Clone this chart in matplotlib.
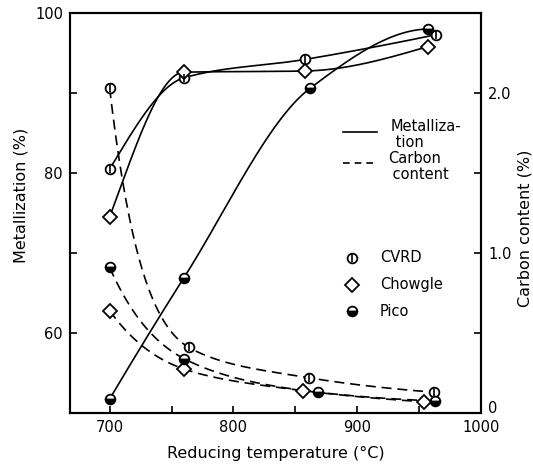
import numpy as np
import matplotlib
matplotlib.use("Agg")
import matplotlib.pyplot as plt

# Reduction results per ore: temperature (deg C), metallization (%), carbon (%)
ores = ["CVRD", "Chowgle", "Pico"]

cvrd_t_met = [700, 760, 858, 964]
cvrd_met = [80.5, 91.9, 94.2, 97.3]
chowgle_t_met = [700, 760, 858, 957]
chowgle_met = [74.5, 92.6, 92.75, 95.8]
pico_t_met = [700, 760, 862, 957]
pico_met = [51.75, 66.9, 90.6, 98.0]

cvrd_t_c = [700, 764, 861, 962]
cvrd_c = [2.03, 0.41, 0.22, 0.13]
chowgle_t_c = [700, 760, 856, 954]
chowgle_c = [0.64, 0.275, 0.14, 0.07]
pico_t_c = [700, 760, 868, 963]
pico_c = [0.91, 0.34, 0.13, 0.075]


def pchip(x, y, xs):
    # monotone cubic hermite through the measured points
    x = np.asarray(x, float)
    y = np.asarray(y, float)
    h = np.diff(x)
    d = np.diff(y) / h
    n = len(x)
    m = np.zeros(n)
    for k in range(1, n - 1):
        if d[k - 1] * d[k] > 0:
            w1 = 2 * h[k] + h[k - 1]
            w2 = h[k] + 2 * h[k - 1]
            m[k] = (w1 + w2) / (w1 / d[k - 1] + w2 / d[k])
    m[0] = ((2 * h[0] + h[1]) * d[0] - h[0] * d[1]) / (h[0] + h[1])
    if np.sign(m[0]) != np.sign(d[0]):
        m[0] = 0
    m[-1] = ((2 * h[-1] + h[-2]) * d[-1] - h[-1] * d[-2]) / (h[-1] + h[-2])
    if np.sign(m[-1]) != np.sign(d[-1]):
        m[-1] = 0
    idx = np.clip(np.searchsorted(x, xs) - 1, 0, n - 2)
    t = (xs - x[idx]) / h[idx]
    h00 = 2 * t**3 - 3 * t**2 + 1
    h10 = t**3 - 2 * t**2 + t
    h01 = -2 * t**3 + 3 * t**2
    h11 = t**3 - t**2
    return (h00 * y[idx] + h10 * h[idx] * m[idx]
            + h01 * y[idx + 1] + h11 * h[idx] * m[idx + 1])


def curve(x, y, log=False):
    xs = np.linspace(x[0], x[-1], 200)
    if log:
        return xs, np.exp(pchip(x, np.log(y), xs))
    return xs, pchip(x, y, xs)


plt.rcParams["font.family"] = "DejaVu Sans"

fig = plt.figure(figsize=(5.33, 4.68), dpi=100)
ax = fig.add_axes([70 / 533, 1 - 413 / 468, 411 / 533, 400 / 468])
ax2 = ax.twinx()

lw = 1.2
dash = (0, (6, 3.5))

marker_style = {
    "CVRD": dict(marker="o", ms=7, mfc="white", mec="black", mew=1.3),
    "Chowgle": dict(marker="D", ms=7, mfc="white", mec="black", mew=1.3),
    "Pico": dict(marker="o", ms=7, mfc="black", mfcalt="white",
                 fillstyle="bottom", mec="black", mew=1.3),
}


def draw_markers(axis, x, y, ore, **kw):
    axis.plot(x, y, ls="none", zorder=5, clip_on=False, **marker_style[ore], **kw)
    if ore == "CVRD":
        axis.plot(x, y, ls="none", marker="|", ms=6, mew=1.2,
                  color="black", zorder=6, clip_on=False, **kw)


# metallization (solid, left axis)
met = [(cvrd_t_met, cvrd_met), (chowgle_t_met, chowgle_met), (pico_t_met, pico_met)]
for ore, (tx, vy) in zip(ores, met):
    xs, ys = curve(tx, vy)
    ax.plot(xs, ys, color="black", lw=lw, zorder=3)
    draw_markers(ax, tx, vy, ore)

# carbon content (dashed, right axis)
carb = [(cvrd_t_c, cvrd_c), (chowgle_t_c, chowgle_c), (pico_t_c, pico_c)]
for ore, (tx, vy) in zip(ores, carb):
    xs, ys = curve(tx, vy, log=True)
    ax2.plot(xs, ys, color="black", lw=lw, ls=dash, zorder=3)
    draw_markers(ax2, tx, vy, ore)

ax.set_xlim(668, 1000)
ax.set_ylim(50, 100)
ax2.set_ylim(0, 2.5)

ax.set_xticks([700, 800, 900, 1000])
ax.set_xticks([750, 850, 950], minor=True)
ax.set_yticks([60, 80, 100])
ax.set_yticks([50, 70, 90], minor=True)
ax2.set_yticks([0, 1.0, 2.0])
ax2.set_yticklabels(["0", "1.0", "2.0"])
ax2.set_yticks([0.5, 1.5], minor=True)
# keep the right-hand "0" clear of the "1000" below it
ax2.get_yticklabels()[0].set_va("baseline")

for a in (ax, ax2):
    a.tick_params(which="both", direction="in", length=5, width=1.2,
                  labelsize=10.5, pad=5)
    for s in a.spines.values():
        s.set_linewidth(1.5)
ax.tick_params(axis="x", pad=5)

ax.set_xlabel("Reducing temperature (\u00b0C)", fontsize=11.5, labelpad=8)
ax.set_ylabel("Metallization (%)", fontsize=11.5)
ax.yaxis.set_label_coords(-0.10, 0.545)
ax2.set_ylabel("Carbon content (%)", fontsize=11.5)
ax2.yaxis.set_label_coords(1.09, 0.4625)

# line-style key
tr = ax.transAxes
ax.plot([0.664, 0.747], [0.7025, 0.7025], color="black", lw=lw, transform=tr)
ax.text(0.78, 0.735, "Metalliza-\n tion", transform=tr, fontsize=10.5,
        va="top", ha="left", linespacing=1.1)
ax.plot([0.664, 0.747], [0.625, 0.625], color="black", lw=lw, ls=(0, (4, 3)),
        transform=tr)
ax.text(0.774, 0.655, "Carbon\n content", transform=tr, fontsize=10.5,
        va="top", ha="left", linespacing=1.1)

# marker key
for ore, yk in zip(ores, [0.3875, 0.32, 0.255]):
    draw_markers(ax, [0.686], [yk], ore, transform=tr)
    ax.text(0.754, yk, ore, transform=tr, fontsize=10.5, va="center", ha="left")

fig.savefig("out.png", dpi=100)
